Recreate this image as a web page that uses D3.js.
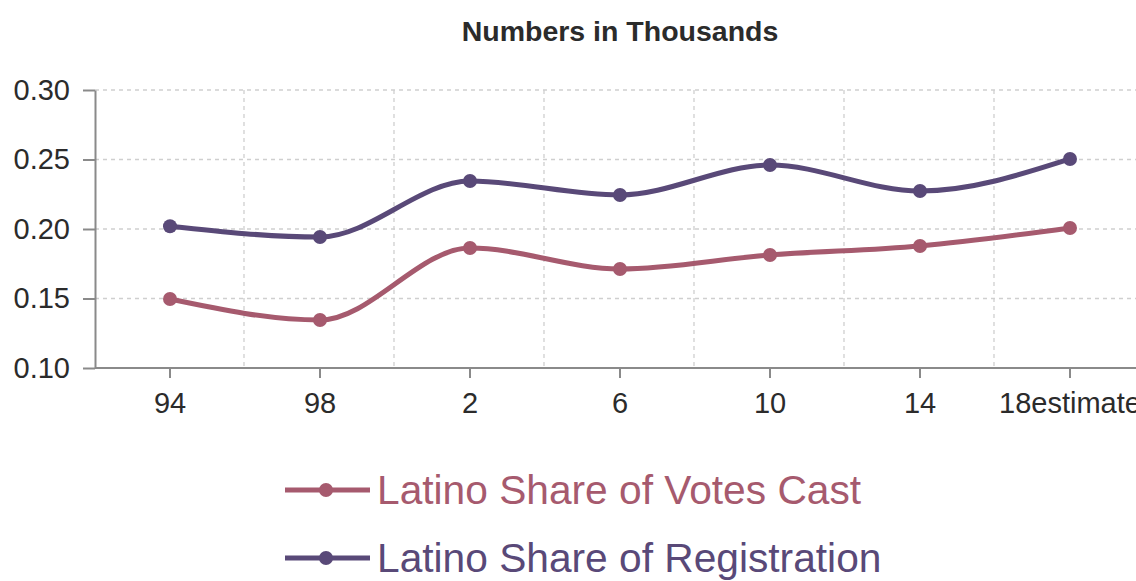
<!DOCTYPE html>
<html>
<head>
<meta charset="utf-8">
<script src="https://cdn.jsdelivr.net/npm/d3@7"></script>
<style>
  body { margin: 0; background: #fff; }
  svg { display: block; font-family: "Liberation Sans", Arial, sans-serif; }
</style>
</head>
<body>
<div id="chart"></div>
<script>
var years = ["94", "98", "2", "6", "10", "14", "18estimate"];
var votesCast = [0.1496, 0.1345, 0.1863, 0.1712, 0.1813, 0.1878, 0.2007];
var registration = [0.2020, 0.1942, 0.2345, 0.2245, 0.2460, 0.2273, 0.2504];
var yTicks = [0.10, 0.15, 0.20, 0.25, 0.30];
var seriesNames = ["Latino Share of Votes Cast", "Latino Share of Registration"];
var seriesColors = ["#a65a6e", "#594978"];

var width = 1136, height = 581;
var margin = {top: 90, left: 95, bottom: 213};

var svg = d3.select("#chart").append("svg")
            .attr("width", width)
            .attr("height", height);

var x = d3.scaleBand()
          .domain(years)
          .range([margin.left, margin.left + 150 * years.length]);

var y = d3.scaleLinear()
          .domain([0.10, 0.30])
          .range([height - margin.bottom, margin.top]);

// title
svg.append("text")
   .attr("x", 620)
   .attr("y", 41)
   .attr("text-anchor", "middle")
   .attr("font-size", "28.5px")
   .attr("font-weight", "bold")
   .attr("fill", "#2b2b2b")
   .text("Numbers in Thousands");

// grid
svg.append("g").selectAll("line")
   .data(yTicks.slice(1))
   .join("line")
   .attr("x1", margin.left).attr("x2", width)
   .attr("y1", function (d) { return y(d); })
   .attr("y2", function (d) { return y(d); })
   .attr("stroke", "#cfcfcf")
   .attr("stroke-width", 1.3)
   .attr("stroke-dasharray", "4,4");

svg.append("g").selectAll("line")
   .data(years.slice(1))
   .join("line")
   .attr("x1", function (d) { return x(d) - 1; })
   .attr("x2", function (d) { return x(d) - 1; })
   .attr("y1", y(0.30)).attr("y2", y(0.10))
   .attr("stroke", "#cfcfcf")
   .attr("stroke-width", 1.3)
   .attr("stroke-dasharray", "4,4");

// axes
var xAxis = svg.append("g")
   .attr("transform", "translate(0," + y(0.10) + ")")
   .call(d3.axisBottom(x).tickSize(10).tickSizeOuter(0).tickPadding(14));

var yAxis = svg.append("g")
   .attr("transform", "translate(" + margin.left + ",0)")
   .call(d3.axisLeft(y).tickValues(yTicks).tickFormat(d3.format(".2f"))
           .tickSize(12).tickSizeOuter(0).tickPadding(13));

[xAxis, yAxis].forEach(function (a) {
  a.select(".domain").attr("stroke", "#8a8a8a").attr("stroke-width", 2);
  a.selectAll(".tick line").attr("stroke", "#8a8a8a").attr("stroke-width", 2);
  a.selectAll(".tick text")
   .attr("fill", "#2b2b2b")
   .attr("font-size", "29px")
   .attr("font-family", "Liberation Sans, Arial, sans-serif");
});
xAxis.select(".domain").attr("d", "M" + margin.left + ",0H" + (width + 20));

// lines
var line = d3.line()
             .x(function (d, i) { return x(years[i]) + x.bandwidth() / 2; })
             .y(function (d) { return y(d); })
             .curve(d3.curveMonotoneX);

[votesCast, registration].forEach(function (series, k) {
  svg.append("path")
     .datum(series)
     .attr("d", line)
     .attr("fill", "none")
     .attr("stroke", seriesColors[k])
     .attr("stroke-width", 5);

  svg.append("g").selectAll("circle")
     .data(series)
     .join("circle")
     .attr("cx", function (d, i) { return x(years[i]) + x.bandwidth() / 2; })
     .attr("cy", function (d) { return y(d); })
     .attr("r", 7)
     .attr("fill", seriesColors[k]);
});

// legend
seriesNames.forEach(function (name, k) {
  var ly = 490 + k * 68;
  var g = svg.append("g");
  g.append("line")
   .attr("x1", 285).attr("x2", 370)
   .attr("y1", ly).attr("y2", ly)
   .attr("stroke", seriesColors[k])
   .attr("stroke-width", 5);
  g.append("circle")
   .attr("cx", 326).attr("cy", ly)
   .attr("r", 7)
   .attr("fill", seriesColors[k]);
  g.append("text")
   .attr("x", 377)
   .attr("y", ly + 14)
   .attr("font-size", "40.7px")
   .attr("fill", seriesColors[k])
   .text(name);
});
</script>
</body>
</html>
